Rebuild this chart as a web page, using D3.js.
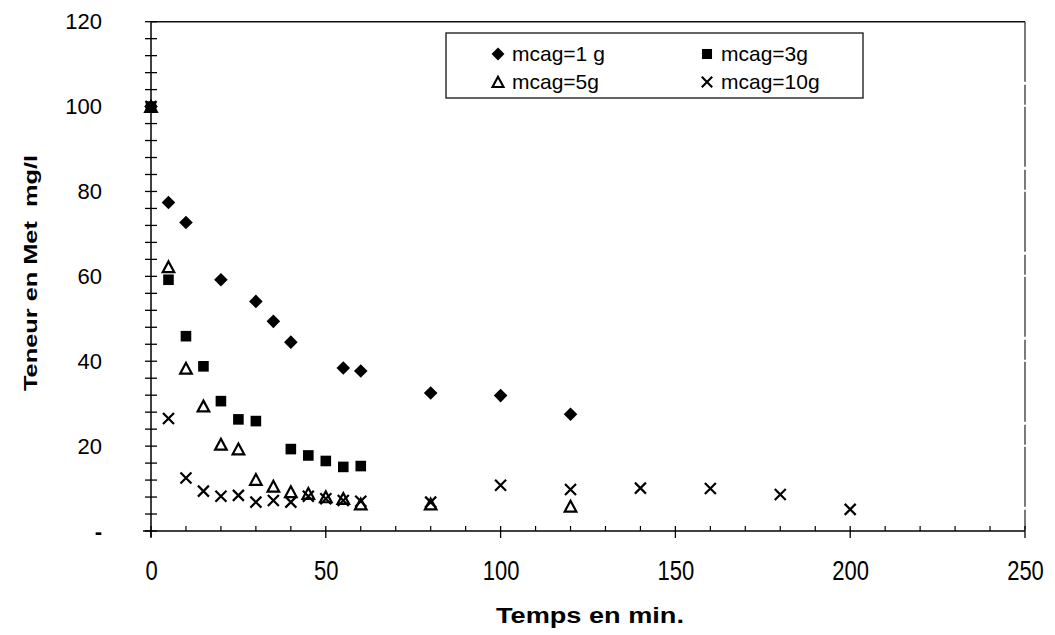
<!DOCTYPE html>
<html>
<head>
<meta charset="utf-8">
<script src="https://cdn.jsdelivr.net/npm/d3@7"></script>
<style>
  html, body { margin: 0; padding: 0; background: #fff; }
  svg { display: block; font-family: "Liberation Sans", Arial, sans-serif; }
</style>
</head>
<body>
<svg id="chart" width="1055" height="635"></svg>
<script>
// ---- data ----
const times1  = [0, 5, 10, 20, 30, 35, 40, 55, 60, 80, 100, 120];
const mcag1   = [100, 77.4, 72.7, 59.2, 54.1, 49.4, 44.5, 38.4, 37.7, 32.5, 31.9, 27.5];
const times3  = [0, 5, 10, 15, 20, 25, 30, 40, 45, 50, 55, 60];
const mcag3   = [100, 59.2, 45.9, 38.8, 30.6, 26.3, 25.9, 19.3, 17.8, 16.5, 15.1, 15.3];
const times5  = [0, 5, 10, 15, 20, 25, 30, 35, 40, 45, 50, 55, 60, 80, 120];
const mcag5   = [100, 62.2, 38.3, 29.4, 20.4, 19.3, 12.1, 10.5, 9.2, 8.8, 8.0, 7.6, 6.3, 6.3, 5.8];
const times10 = [0, 5, 10, 15, 20, 25, 30, 35, 40, 45, 50, 55, 60, 80, 100, 120, 140, 160, 180, 200];
const mcag10  = [100, 26.5, 12.5, 9.4, 8.2, 8.4, 6.8, 7.2, 6.8, 8.2, 7.6, 7.2, 7.0, 6.8, 10.8, 9.8, 10.1, 10.0, 8.6, 5.1];

const seriesNames = ["mcag=1 g", "mcag=3g", "mcag=5g", "mcag=10g"];
const seriesShapes = ["diamond", "square", "triangle", "cross"];
const xTickValues = [0, 50, 100, 150, 200, 250];
const yTickValues = [0, 20, 40, 60, 80, 100, 120];
const xTitle = "Temps en min.";
const yTitle = "Teneur en Met  mg/l";

const series = [
  { name: seriesNames[0], shape: seriesShapes[0], pts: times1.map((t, i) => [t, mcag1[i]]) },
  { name: seriesNames[1], shape: seriesShapes[1], pts: times3.map((t, i) => [t, mcag3[i]]) },
  { name: seriesNames[2], shape: seriesShapes[2], pts: times5.map((t, i) => [t, mcag5[i]]) },
  { name: seriesNames[3], shape: seriesShapes[3], pts: times10.map((t, i) => [t, mcag10[i]]) }
];

// ---- layout ----
const L = 151, R = 1025, T = 21.7, B = 531;
const svg = d3.select("#chart");
const x = d3.scaleLinear().domain([0, 250]).range([L, R]);
const y = d3.scaleLinear().domain([0, 120]).range([B, T]);

// marker drawing
function markerPath(shape) {
  const p = d3.path();
  if (shape === "diamond") {
    const h = 6.8;
    p.moveTo(0, -h); p.lineTo(h, 0); p.lineTo(0, h); p.lineTo(-h, 0); p.closePath();
  } else if (shape === "square") {
    const h = 5.3;
    p.rect(-h, -h, 2 * h, 2 * h);
  } else if (shape === "triangle") {
    p.moveTo(0, -5.6); p.lineTo(5.8, 5.2); p.lineTo(-5.8, 5.2); p.closePath();
  } else {
    const h = 5.5;
    p.moveTo(-h, -h); p.lineTo(h, h); p.moveTo(h, -h); p.lineTo(-h, h);
  }
  return p.toString();
}
function styleMarker(sel, shape) {
  if (shape === "diamond" || shape === "square") {
    sel.attr("fill", "#000").attr("stroke", "none");
  } else {
    sel.attr("fill", "none").attr("stroke", "#000").attr("stroke-width", 2.2)
       .attr("stroke-linejoin", "miter");
  }
}

// ---- frame (top & right) ----
svg.append("line").attr("x1", L).attr("x2", R).attr("y1", T).attr("y2", T)
  .attr("stroke", "#111").attr("stroke-width", 1.4);
svg.append("line").attr("x1", R).attr("x2", R).attr("y1", T).attr("y2", B)
  .attr("stroke", "#222").attr("stroke-width", 1.2).attr("stroke-dasharray", "60,3,20,2");

// ---- y axis ----
const yMinor = d3.range(0, 121, 4);
svg.append("g").selectAll("line").data(yMinor).join("line")
  .attr("x1", L - 6).attr("x2", L + 6)
  .attr("y1", d => y(d)).attr("y2", d => y(d))
  .attr("stroke", "#000").attr("stroke-width", 1.3);
const yAxis = d3.axisLeft(y).tickValues(yTickValues).tickSize(0).tickPadding(49)
  .tickFormat(d => d === 0 ? "-" : d3.format("d")(d));
const gy = svg.append("g").attr("transform", `translate(${L},0)`).call(yAxis);
gy.select(".domain").attr("stroke", "#000").attr("stroke-width", 1.5)
  .attr("d", `M0,${T}V${B + 6}`);
gy.selectAll("text").attr("font-size", 22).attr("fill", "#000")
  .attr("font-family", "'Liberation Sans', Arial, sans-serif")
  .attr("font-weight", d => d === 0 ? "bold" : "normal");

// ---- x axis ----
const xMinor = d3.range(0, 251, 10).filter(d => d % 50 !== 0);
svg.append("g").selectAll("line").data(xMinor).join("line")
  .attr("x1", d => x(d)).attr("x2", d => x(d))
  .attr("y1", B - 5).attr("y2", B)
  .attr("stroke", "#000").attr("stroke-width", 1.2);
svg.append("g").selectAll("line").data(xTickValues).join("line")
  .attr("x1", d => x(d)).attr("x2", d => x(d))
  .attr("y1", B - 5).attr("y2", B + 7)
  .attr("stroke", "#000").attr("stroke-width", 1.3);
const xAxis = d3.axisBottom(x).tickValues(xTickValues).tickSize(0).tickFormat(d3.format("d"));
const gx = svg.append("g").attr("transform", `translate(0,${B})`).call(xAxis);
gx.select(".domain").attr("stroke", "#000").attr("stroke-width", 1.5)
  .attr("d", `M${L - 8},0H${R}`);
gx.selectAll(".tick text")
  .attr("font-size", 22).attr("fill", "#000")
  .attr("font-family", "'Liberation Sans', Arial, sans-serif")
  .attr("y", 0).attr("dy", 0)
  .attr("transform", "translate(0,49) scale(1,1.22)");

// ---- markers ----
series.forEach(s => {
  const g = svg.append("g");
  g.selectAll("path").data(s.pts).join("path")
    .attr("d", markerPath(s.shape))
    .attr("transform", d => `translate(${x(d[0])},${y(d[1])})`)
    .call(sel => styleMarker(sel, s.shape));
});

// ---- legend ----
const lg = svg.append("g");
lg.append("rect").attr("x", 446).attr("y", 33).attr("width", 417).attr("height", 65)
  .attr("fill", "#fff").attr("stroke", "#111").attr("stroke-width", 1.3);
const legPos = [
  { mx: 498, my: 54, tx: 512, ty: 61 },
  { mx: 707, my: 54, tx: 721, ty: 61 },
  { mx: 498, my: 82, tx: 512, ty: 89 },
  { mx: 707, my: 82, tx: 721, ty: 89 }
];
series.forEach((s, i) => {
  const p = legPos[i];
  lg.append("path").attr("d", markerPath(s.shape))
    .attr("transform", `translate(${p.mx},${p.my}) scale(0.95)`)
    .call(sel => styleMarker(sel, s.shape));
  lg.append("text").attr("x", p.tx).attr("y", p.ty)
    .attr("font-size", 21).attr("fill", "#000").text(s.name);
});

// ---- axis titles ----
svg.append("text")
  .attr("x", 590).attr("y", 623).attr("text-anchor", "middle")
  .attr("font-size", 22).attr("font-weight", "bold").attr("fill", "#000")
  .attr("textLength", 188).attr("lengthAdjust", "spacingAndGlyphs")
  .text(xTitle);
svg.append("text")
  .attr("transform", "translate(37,273) rotate(-90)")
  .attr("text-anchor", "middle")
  .attr("font-size", 19).attr("font-weight", "bold").attr("fill", "#000")
  .style("white-space", "pre")
  .attr("textLength", 236).attr("lengthAdjust", "spacingAndGlyphs")
  .text(yTitle);
</script>
</body>
</html>
